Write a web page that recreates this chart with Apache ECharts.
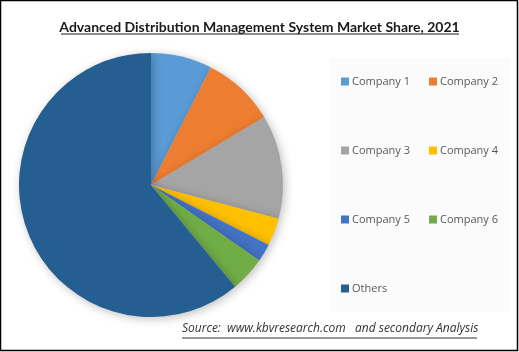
<!DOCTYPE html>
<html>
<head>
<meta charset="utf-8">
<script src="https://cdn.jsdelivr.net/npm/echarts@6/dist/echarts.min.js"></script>
<style>
  html, body { margin: 0; padding: 0; background: #fff; }
  #main { width: 519px; height: 352px; }
</style>
</head>
<body>
<div id="main"></div>
<script>
// market share, 2021 (%)
const companies = ['Company 1', 'Company 2', 'Company 3', 'Company 4', 'Company 5', 'Company 6', 'Others'];
const shares = [7.5, 8.9, 12.7, 3.4, 2.2, 4.3, 61.0];
const colors = ['#5B9BD5', '#ED7D31', '#A5A5A5', '#FFC000', '#4472C4', '#70AD47', '#255E91'];

const legendRows = [
  ['Company 1', 'Company 2'],
  ['Company 3', 'Company 4'],
  ['Company 5', 'Company 6'],
  ['Others']
];
const rowTops = [76, 145, 214, 283];

const chart = echarts.init(document.getElementById('main'));

const legends = legendRows.map((row, i) => ({
  data: row,
  left: 341,
  top: rowTops[i],
  padding: 0,
  orient: 'horizontal',
  icon: 'rect',
  itemWidth: 8,
  itemHeight: 8,
  itemGap: 19,
  textStyle: { fontFamily: 'Open Sans', fontSize: 11, color: '#595959', padding: [0, 0, 0, -2] },
  selectedMode: false
}));

chart.setOption({
  animation: false,
  color: colors,
  title: {
    text: 'Advanced Distribution Management System Market Share, 2021',
    left: 'center',
    top: 15,
    textStyle: { fontFamily: 'Lato', fontWeight: 'bold', fontSize: 14, color: '#1a1a1a' }
  },
  legend: legends,
  graphic: [
    { type: 'rect', shape: { x: 0.5, y: 0.5, width: 517, height: 350 }, style: { fill: 'none', stroke: '#000', lineWidth: 1.5 }, z: 10 },
    { type: 'rect', shape: { x: 330, y: 58, width: 180, height: 254 }, style: { fill: '#fbfbfb' }, z: -1 },
    { type: 'line', shape: { x1: 61, y1: 34, x2: 459, y2: 34 }, style: { stroke: '#1a1a1a', lineWidth: 1 } },
    { type: 'text', left: 182, top: 323, style: { text: 'Source:  www.kbvresearch.com   and secondary Analysis', fontFamily: 'Open Sans', fontStyle: 'italic', fontSize: 12, fill: '#333' } },
    { type: 'line', shape: { x1: 182, y1: 338, x2: 477, y2: 338 }, style: { stroke: '#333', lineWidth: 1 } }
  ],
  series: [{
    type: 'pie',
    center: [151, 185],
    radius: 132,
    startAngle: 90,
    clockwise: true,
    label: { show: false },
    labelLine: { show: false },
    emphasis: { disabled: true },
    itemStyle: { shadowBlur: 10, shadowColor: 'rgba(0,0,0,0.25)', shadowOffsetX: 2, shadowOffsetY: 2 },
    data: companies.map((name, i) => ({ name: name, value: shares[i] }))
  }]
});
</script>
</body>
</html>
